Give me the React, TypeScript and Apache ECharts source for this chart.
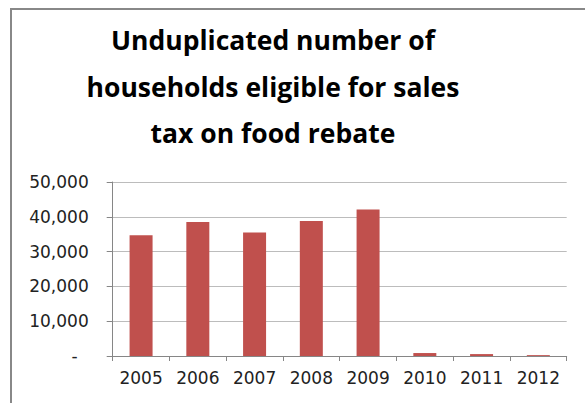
import React, { useEffect, useRef } from "react";
import * as echarts from "echarts";

const titleLines = ["Unduplicated number of", "households eligible for sales", "tax on food rebate"];
const years = ["2005", "2006", "2007", "2008", "2009", "2010", "2011", "2012"];
const households = [34700, 38500, 35500, 38800, 42100, 850, 550, 250];
const yMax = 50000;
const yStep = 10000;

export default function App() {
  const ref = useRef<HTMLDivElement>(null);
  useEffect(() => {
    document.body.style.margin = "0";
    const chart = echarts.init(ref.current!, undefined, { renderer: "svg" });
    const font = "DejaVu Sans";
    chart.setOption({
      animation: false,
      title: {
        text: titleLines.join("\n"),
        left: 268,
        top: 12,
        textAlign: "center",
        textStyle: {
          fontFamily: "Open Sans",
          fontWeight: "bold",
          fontSize: 26.5,
          lineHeight: 46.5,
          color: "#000",
        },
      },
      graphic: [
        {
          type: "rect",
          shape: { x: 11, y: 9, width: 700, height: 500 },
          style: { fill: "none", stroke: "#888", lineWidth: 2 },
          silent: true,
        },
      ],
      grid: { left: 112.7, right: 18.3, top: 182, bottom: 47, containLabel: false },
      xAxis: {
        type: "category",
        data: years,
        boundaryGap: true,
        axisLine: { lineStyle: { color: "#868686", width: 1 } },
        axisTick: { show: true, length: 5, lineStyle: { color: "#868686" } },
        axisLabel: { color: "#222", fontFamily: font, fontSize: 17, margin: 13 },
      },
      yAxis: {
        type: "value",
        min: 0,
        max: yMax,
        interval: yStep,
        axisLine: { show: true, lineStyle: { color: "#868686", width: 1 } },
        axisTick: { show: true, length: 6, lineStyle: { color: "#868686" } },
        splitLine: { lineStyle: { color: "#bcbcbc", width: 1 } },
        axisLabel: {
          color: "#222",
          fontFamily: font,
          fontSize: 17,
          margin: 24,
          formatter: (v: number) =>
            v === 0 ? "{d|-}" : v.toLocaleString("en-US"),
          rich: { d: { fontFamily: font, fontSize: 17, color: "#222", padding: [0, 11, 0, 0] } },
        },
      },
      series: [
        {
          type: "bar",
          data: households,
          barWidth: 23,
          itemStyle: { color: "#C0504D" },
        },
      ],
    });
    return () => chart.dispose();
  }, []);
  return <div ref={ref} style={{ width: 585, height: 403 }} />;
}
